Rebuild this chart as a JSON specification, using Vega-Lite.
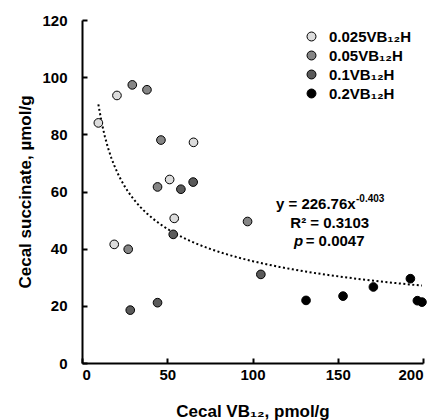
{
  "$schema": "https://vega.github.io/schema/vega-lite/v6.json",
  "width": 341,
  "height": 343,
  "autosize": {"type": "none"},
  "padding": {"left": 82, "top": 20, "right": 13, "bottom": 57},
  "config": {"view": {"stroke": null}, "font": "Liberation Sans"},
  "data": {
    "values": [
      {"vb": 9.6, "succ": 84.0, "group": "0.025VB₁₂H"},
      {"vb": 20.5, "succ": 93.6, "group": "0.025VB₁₂H"},
      {"vb": 65.4, "succ": 77.2, "group": "0.025VB₁₂H"},
      {"vb": 51.4, "succ": 64.2, "group": "0.025VB₁₂H"},
      {"vb": 54.1, "succ": 50.6, "group": "0.025VB₁₂H"},
      {"vb": 18.9, "succ": 41.5, "group": "0.025VB₁₂H"},
      {"vb": 29.5, "succ": 97.3, "group": "0.05VB₁₂H"},
      {"vb": 38.1, "succ": 95.6, "group": "0.05VB₁₂H"},
      {"vb": 46.3, "succ": 78.0, "group": "0.05VB₁₂H"},
      {"vb": 44.3, "succ": 61.6, "group": "0.05VB₁₂H"},
      {"vb": 97.1, "succ": 49.5, "group": "0.05VB₁₂H"},
      {"vb": 27.1, "succ": 39.8, "group": "0.05VB₁₂H"},
      {"vb": 58.0, "succ": 60.8, "group": "0.1VB₁₂H"},
      {"vb": 65.2, "succ": 63.3, "group": "0.1VB₁₂H"},
      {"vb": 53.5, "succ": 45.0, "group": "0.1VB₁₂H"},
      {"vb": 28.3, "succ": 18.5, "group": "0.1VB₁₂H"},
      {"vb": 44.3, "succ": 21.1, "group": "0.1VB₁₂H"},
      {"vb": 104.9, "succ": 31.0, "group": "0.1VB₁₂H"},
      {"vb": 131.4, "succ": 21.9, "group": "0.2VB₁₂H"},
      {"vb": 153.1, "succ": 23.4, "group": "0.2VB₁₂H"},
      {"vb": 170.9, "succ": 26.6, "group": "0.2VB₁₂H"},
      {"vb": 192.6, "succ": 29.5, "group": "0.2VB₁₂H"},
      {"vb": 196.7, "succ": 21.8, "group": "0.2VB₁₂H"},
      {"vb": 199.4, "succ": 21.3, "group": "0.2VB₁₂H"}
    ]
  },
  "layer": [
    {
      "transform": [{"regression": "succ", "on": "vb", "method": "pow"}],
      "mark": {"type": "line", "color": "black", "strokeWidth": 2, "strokeDash": [2, 2.5]},
      "encoding": {
        "x": {
          "field": "vb", "type": "quantitative",
          "scale": {"domain": [0, 200], "nice": false},
          "axis": {
            "values": [0, 50, 100, 150, 200], "grid": false,
            "title": "Cecal VB₁₂, pmol/g",
            "titleFont": "Liberation Sans", "titleFontSize": 17, "titleFontWeight": "bold", "titleColor": "black", "titlePadding": 21,
            "labelFont": "Liberation Sans", "labelFontSize": 15, "labelFontWeight": "bold", "labelColor": "black", "labelPadding": 9,
            "domainColor": "black", "domainWidth": 2, "tickColor": "black", "tickWidth": 2, "tickSize": -5
          }
        },
        "y": {
          "field": "succ", "type": "quantitative",
          "scale": {"domain": [0, 120], "nice": false},
          "axis": {
            "values": [0, 20, 40, 60, 80, 100, 120], "grid": false,
            "title": "Cecal succinate, µmol/g",
            "titleFont": "Liberation Sans", "titleFontSize": 17, "titleFontWeight": "bold", "titleColor": "black", "titlePadding": 7,
            "labelFont": "Liberation Sans", "labelFontSize": 15, "labelFontWeight": "bold", "labelColor": "black", "labelPadding": 20,
            "domainColor": "black", "domainWidth": 2, "tickColor": "black", "tickWidth": 2, "tickSize": -5
          }
        }
      }
    },
    {
      "mark": {"type": "circle", "size": 75, "stroke": "black", "strokeWidth": 1, "opacity": 1},
      "encoding": {
        "x": {"field": "vb", "type": "quantitative"},
        "y": {"field": "succ", "type": "quantitative"},
        "fill": {
          "field": "group", "type": "nominal",
          "scale": {"domain": ["0.025VB₁₂H", "0.05VB₁₂H", "0.1VB₁₂H", "0.2VB₁₂H"], "range": ["#dcdcdc", "#858585", "#5a5a5a", "#000000"]},
          "legend": {
            "title": null, "orient": "none", "legendX": 222, "legendY": 9,
            "symbolType": "circle", "symbolSize": 80, "symbolStrokeColor": "black", "symbolStrokeWidth": 1, "symbolOpacity": 1,
            "labelFont": "Liberation Sans", "labelFontSize": 15, "labelFontWeight": "bold", "labelColor": "black",
            "labelOffset": 10, "rowPadding": 3
          }
        }
      }
    },
    {
      "data": {"values": [{}]},
      "mark": {"type": "text", "text": "y = 226.76x", "align": "right", "baseline": "middle", "font": "Liberation Sans", "fontSize": 15, "fontWeight": "bold", "color": "black"},
      "encoding": {"x": {"datum": 160.5, "type": "quantitative"}, "y": {"datum": 55.6, "type": "quantitative"}}
    },
    {
      "data": {"values": [{}]},
      "mark": {"type": "text", "text": "-0.403", "align": "left", "baseline": "middle", "dy": -5, "font": "Liberation Sans", "fontSize": 10, "fontWeight": "bold", "color": "black"},
      "encoding": {"x": {"datum": 160.7, "type": "quantitative"}, "y": {"datum": 55.6, "type": "quantitative"}}
    },
    {
      "data": {"values": [{}]},
      "mark": {"type": "text", "text": "R² = 0.3103", "align": "center", "baseline": "middle", "font": "Liberation Sans", "fontSize": 15, "fontWeight": "bold", "color": "black"},
      "encoding": {"x": {"datum": 145.3, "type": "quantitative"}, "y": {"datum": 49.1, "type": "quantitative"}}
    },
    {
      "data": {"values": [{}]},
      "mark": {"type": "text", "text": "p", "align": "right", "baseline": "middle", "font": "Liberation Sans", "fontSize": 15, "fontWeight": "bold", "fontStyle": "italic", "color": "black"},
      "encoding": {"x": {"datum": 129.7, "type": "quantitative"}, "y": {"datum": 42.8, "type": "quantitative"}}
    },
    {
      "data": {"values": [{}]},
      "mark": {"type": "text", "text": "= 0.0047", "align": "left", "baseline": "middle", "font": "Liberation Sans", "fontSize": 15, "fontWeight": "bold", "color": "black"},
      "encoding": {"x": {"datum": 131.2, "type": "quantitative"}, "y": {"datum": 42.8, "type": "quantitative"}}
    }
  ]
}
